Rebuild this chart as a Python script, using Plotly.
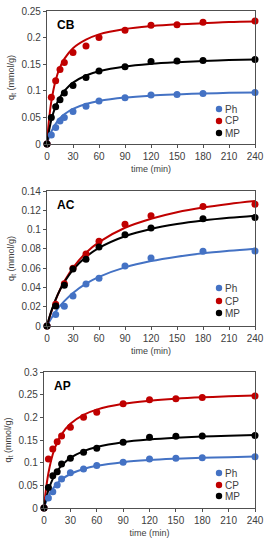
import plotly.graph_objects as go

# ---------------- data ----------------
labels = ["Ph", "CP", "MP"]
panel_names = ["CB", "AC", "AP"]

# CB
t_cb = [0, 5, 10, 15, 20, 30, 45, 60, 90, 120, 150, 180, 240]
cb_ph = [0, 0.017, 0.031, 0.043, 0.050, 0.061, 0.071, 0.081, 0.087, 0.092, 0.093, 0.095, 0.097]
cb_cp = [0, 0.088, 0.119, 0.140, 0.153, 0.172, 0.184, 0.200, 0.214, 0.223, 0.224, 0.229, 0.231]
cb_mp = [0, 0.050, 0.070, 0.083, 0.096, 0.110, 0.125, 0.137, 0.145, 0.155, 0.156, 0.157, 0.159]

# AC
t_ac = [0, 10, 20, 30, 45, 60, 90, 120, 180, 240]
ac_ph = [0, 0.0118, 0.0204, 0.0311, 0.0436, 0.0494, 0.0622, 0.0705, 0.0774, 0.0778]
ac_cp = [0, 0.0225, 0.0439, 0.0598, 0.0747, 0.0878, 0.1054, 0.1144, 0.1238, 0.1262]
ac_mp = [0, 0.0207, 0.0422, 0.0590, 0.0691, 0.0819, 0.0947, 0.1016, 0.1113, 0.1124]

# AP
t_ap = [0, 5, 10, 15, 20, 30, 45, 60, 90, 120, 150, 180, 240]
ap_ph = [0, 0.022, 0.036, 0.051, 0.064, 0.078, 0.086, 0.094, 0.101, 0.108, 0.110, 0.111, 0.113]
ap_cp = [0, 0.108, 0.130, 0.146, 0.159, 0.178, 0.200, 0.211, 0.230, 0.239, 0.241, 0.244, 0.247]
ap_mp = [0, 0.045, 0.071, 0.080, 0.097, 0.110, 0.123, 0.132, 0.145, 0.156, 0.158, 0.159, 0.160]

# fitted curves
t_fit = [0, 2, 5, 10, 15, 20, 30, 45, 60, 90, 120, 150, 180, 210, 240]
cb_ph_fit = [0, 0.0108, 0.0233, 0.0381, 0.0483, 0.0558, 0.0660, 0.0751, 0.0807, 0.0872, 0.0909, 0.0932, 0.0949, 0.0961, 0.0970]
cb_cp_fit = [0, 0.0400, 0.0800, 0.1200, 0.1440, 0.1600, 0.1800, 0.1960, 0.2060, 0.2160, 0.2215, 0.2250, 0.2270, 0.2294, 0.2304]
cb_mp_fit = [0, 0.0214, 0.0450, 0.0710, 0.0878, 0.0997, 0.1153, 0.1288, 0.1367, 0.1458, 0.1508, 0.1539, 0.1561, 0.1577, 0.1589]
ac_ph_fit = [0, 0.0033, 0.0080, 0.0149, 0.0208, 0.0258, 0.0343, 0.0439, 0.0510, 0.0608, 0.0673, 0.0719, 0.0754, 0.0780, 0.0802]
ac_cp_fit = [0, 0.0063, 0.0149, 0.0272, 0.0376, 0.0463, 0.0604, 0.0760, 0.0870, 0.1019, 0.1112, 0.1180, 0.1229, 0.1266, 0.1296]
ac_mp_fit = [0, 0.0066, 0.0154, 0.0275, 0.0375, 0.0455, 0.0583, 0.0717, 0.0810, 0.0931, 0.1006, 0.1057, 0.1094, 0.1122, 0.1144]
ap_ph_fit = [0, 0.0117, 0.0256, 0.0423, 0.0541, 0.0629, 0.0750, 0.0861, 0.0930, 0.1011, 0.1057, 0.1086, 0.1107, 0.1122, 0.1134]
ap_cp_fit = [0, 0.0372, 0.0766, 0.1184, 0.1447, 0.1628, 0.1860, 0.2056, 0.2170, 0.2298, 0.2367, 0.2411, 0.2441, 0.2463, 0.2480]
ap_mp_fit = [0, 0.0183, 0.0395, 0.0643, 0.0813, 0.0936, 0.1104, 0.1255, 0.1346, 0.1452, 0.1511, 0.1549, 0.1576, 0.1595, 0.1610]

x_ticks = [0, 30, 60, 90, 120, 150, 180, 210, 240]
y_ticks_cb = [0, 0.05, 0.1, 0.15, 0.2, 0.25]
y_ticks_ac = [0, 0.02, 0.04, 0.06, 0.08, 0.1, 0.12, 0.14]
y_ticks_ap = [0, 0.05, 0.1, 0.15, 0.2, 0.25, 0.3]

# ---------------- styling ----------------
W, H = 272, 550
colors = ["#4472C4", "#C00000", "#000000"]
TXT = "#404040"
AX = "#505050"
FONT = "Liberation Sans, Arial, sans-serif"

panels = [
    dict(name="CB", t=t_cb, obs=[cb_ph, cb_cp, cb_mp], fit=[cb_ph_fit, cb_cp_fit, cb_mp_fit],
         yt=y_ticks_cb, px=(47, 255), py=(11, 144), leg=[35, 23, 11]),
    dict(name="AC", t=t_ac, obs=[ac_ph, ac_cp, ac_mp], fit=[ac_ph_fit, ac_cp_fit, ac_mp_fit],
         yt=y_ticks_ac, px=(47, 255), py=(191, 326), leg=[38, 25, 13]),
    dict(name="AP", t=t_ap, obs=[ap_ph, ap_cp, ap_mp], fit=[ap_ph_fit, ap_cp_fit, ap_mp_fit],
         yt=y_ticks_ap, px=(44, 255), py=(372, 508), leg=[35, 23, 12]),
]


def fx(px):
    return px / W


def fy(py):
    return 1 - py / H


fig = go.Figure()
layout = dict(width=W, height=H, margin=dict(l=0, r=0, t=0, b=0),
              paper_bgcolor="white", plot_bgcolor="white", showlegend=False,
              font=dict(family=FONT, size=10, color=TXT), annotations=[], shapes=[])

for i, p in enumerate(panels):
    k = "" if i == 0 else str(i + 1)
    xa, ya = "x" + k, "y" + k
    for j in range(3):
        fig.add_trace(go.Scatter(x=t_fit, y=p["fit"][j], mode="lines",
                                 line=dict(color=colors[j], width=2, shape="spline"),
                                 xaxis=xa, yaxis=ya, hoverinfo="skip"))
    for j in range(3):
        fig.add_trace(go.Scatter(x=p["t"], y=p["obs"][j], mode="markers", name=labels[j],
                                 marker=dict(color=colors[j], size=7), xaxis=xa, yaxis=ya,
                                 cliponaxis=False))
    x0, x1 = p["px"]
    y0, y1 = p["py"]
    layout["xaxis" + k] = dict(domain=[fx(x0), fx(x1)], range=[0, 240], tickvals=x_ticks, anchor=ya,
                               automargin=False, mirror=True,
                               showline=True, linecolor=AX, linewidth=1.2, showgrid=False, zeroline=False,
                               ticks="outside", ticklen=3, tickcolor=AX,
                               tickfont=dict(size=10, color=TXT),
                               title=dict(text="time (min)", font=dict(size=9, color=TXT), standoff=4))
    layout["yaxis" + k] = dict(domain=[fy(y1), fy(y0)], range=[0, p["yt"][-1]], tickvals=p["yt"],
                               ticktext=[("%g" % v) for v in p["yt"]], anchor=xa,
                               automargin=False, mirror=True,
                               showline=True, linecolor=AX, linewidth=1.2, showgrid=False, zeroline=False,
                               ticks="outside", ticklen=3, tickcolor=AX,
                               tickfont=dict(size=10, color=TXT),
                               title=dict(text="q<sub>t</sub> (mmol/g)", font=dict(size=9, color=TXT), standoff=5))
    # panel label
    layout["annotations"].append(dict(text="<b>%s</b>" % p["name"], x=fx(x0 + 8), y=fy(y0 + 14),
                                      xref="paper", yref="paper", xanchor="left", yanchor="middle",
                                      showarrow=False, font=dict(size=12, color="#000")))
    # legend (drawn manually to match the compact Excel layout)
    for j in range(3):
        cy = y1 - p["leg"][j]
        cx = 219
        layout["shapes"].append(dict(type="circle", xref="paper", yref="paper",
                                     x0=fx(cx - 3.2), x1=fx(cx + 3.2), y0=fy(cy + 3.2), y1=fy(cy - 3.2),
                                     fillcolor=colors[j], line=dict(width=0)))
        layout["annotations"].append(dict(text=labels[j], x=fx(cx + 4), y=fy(cy),
                                          xref="paper", yref="paper", xanchor="left", yanchor="middle",
                                          showarrow=False, font=dict(size=10, color=TXT)))

fig.update_layout(**layout)
fig.write_html("out.html", config={"displayModeBar": False},
               post_script="document.body.style.margin='0';document.body.style.overflow='hidden';")
